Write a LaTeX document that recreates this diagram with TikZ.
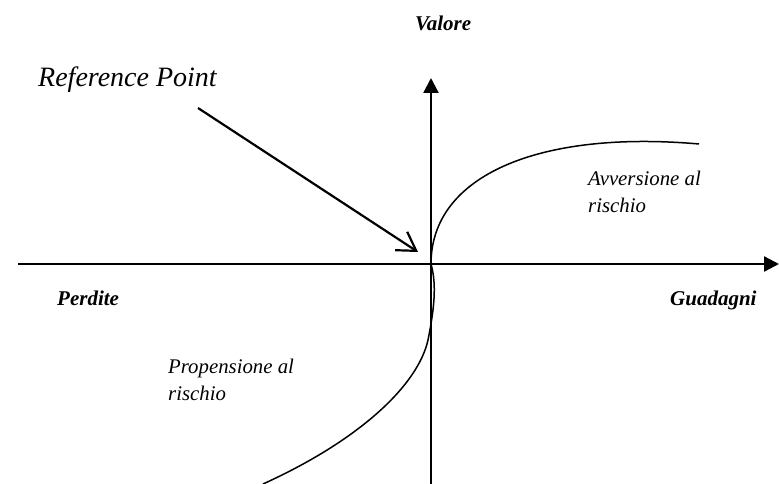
\documentclass[tikz,border=0pt]{standalone}
\usepackage{fontspec}
\setmainfont{Liberation Serif}
\usetikzlibrary{arrows.meta}
\tikzset{
  axis/.style={line width=2.3pt,-{Triangle[length=15pt,width=15pt]}},
  curve/.style={line width=1.5pt},
  refarrow/.style={line width=2.2pt,-{Straight Barb[length=18pt,width=22pt,line width=2.2pt]}},
  axlabel/.style={font=\fontsize{21}{24}\selectfont\bfseries\itshape,inner sep=0pt,anchor=base west},
  zonelabel/.style={font=\fontsize{20.8}{27}\selectfont\itshape,inner sep=0pt,anchor=base west,align=left},
  reflabel/.style={font=\fontsize{28}{32}\selectfont\itshape,inner sep=0pt,anchor=base west}
}
\begin{document}
\begin{tikzpicture}[x=1pt,y=-1pt]
\useasboundingbox (0,0) rectangle (779,484);
\coordinate (O) at (431,264);
\coordinate (xs) at (18,264);
\coordinate (xe) at (779,264);
\coordinate (ys) at (431,484);
\coordinate (ye) at (431,78);
\coordinate (up) at (699,144);
\coordinate (mid) at (428,340);
\coordinate (low) at (263,484);
\coordinate (as) at (198,108);
\coordinate (ae) at (418,252);
\draw[axis] (xs) -- (xe);
\draw[axis] (ys) -- (ye);
\draw[curve] (O) .. controls (431,175) and (540,130) .. (up);
\draw[curve] (O) .. controls (437,285) and (434,310) .. (mid)
  .. controls (418,385) and (360,440) .. (low);
\draw[refarrow] (as) -- (ae);
\node[reflabel] (ref) at (38,87) {Reference Point};
\node[axlabel] (val) at (415,31) {Valore};
\node[axlabel] (per) at (57,305) {Perdite};
\node[axlabel] (gua) at (670,305) {Guadagni};
\node[zonelabel] (avv) at (588,212) {Avversione al\\rischio};
\node[zonelabel] (pro) at (168,400) {Propensione al\\rischio};
\end{tikzpicture}
\end{document}
